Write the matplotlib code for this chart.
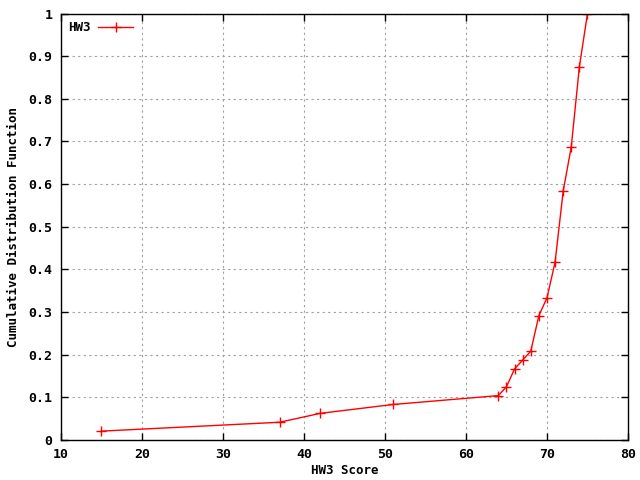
import numpy as np
import matplotlib
matplotlib.use("Agg")
import matplotlib.pyplot as plt
from matplotlib.ticker import FuncFormatter

# HW3 scores and their cumulative fraction (48 students)
scores = [15, 37, 42, 51, 64, 65, 66, 67, 68, 69, 70, 71, 72, 73, 74, 75]
counts = [1, 2, 3, 4, 5, 6, 8, 9, 10, 14, 16, 20, 28, 33, 42, 48]
n_total = 48
cdf = np.array(counts) / n_total

plt.rcParams['font.family'] = 'DejaVu Sans Mono'
plt.rcParams['font.weight'] = 'bold'
plt.rcParams['font.size'] = 9

fig = plt.figure(figsize=(6.4, 4.8), dpi=100)
ax = fig.add_axes([0.0953, 0.0833, 0.8859, 0.8885])

ax.plot(scores, cdf, color='red', lw=1, marker='+', markersize=7,
        markeredgewidth=1, label='HW3')

ax.set_xlim(10, 80)
ax.set_ylim(0, 1)
ax.set_xticks(np.arange(10, 81, 10))
ax.set_yticks(np.arange(0, 1.01, 0.1))
ax.yaxis.set_major_formatter(FuncFormatter(lambda v, p: '%g' % round(v, 1)))

ax.grid(True, color='#a0a0a0', linestyle=(0, (2, 3)), lw=0.8)
ax.tick_params(direction='in', length=5, width=1, top=True, right=True,
               labelsize=9.5, pad=6)
for s in ax.spines.values():
    s.set_linewidth(1)

ax.set_xlabel('HW3 Score', fontsize=9, fontweight='bold', labelpad=2)
ax.set_ylabel('Cumulative Distribution Function', fontsize=9,
              fontweight='bold', labelpad=6)

leg = ax.legend(loc='upper left', frameon=False, handlelength=2.8,
                borderaxespad=0.2, markerfirst=False, handletextpad=0.6)

fig.savefig('out.png', dpi=100)
